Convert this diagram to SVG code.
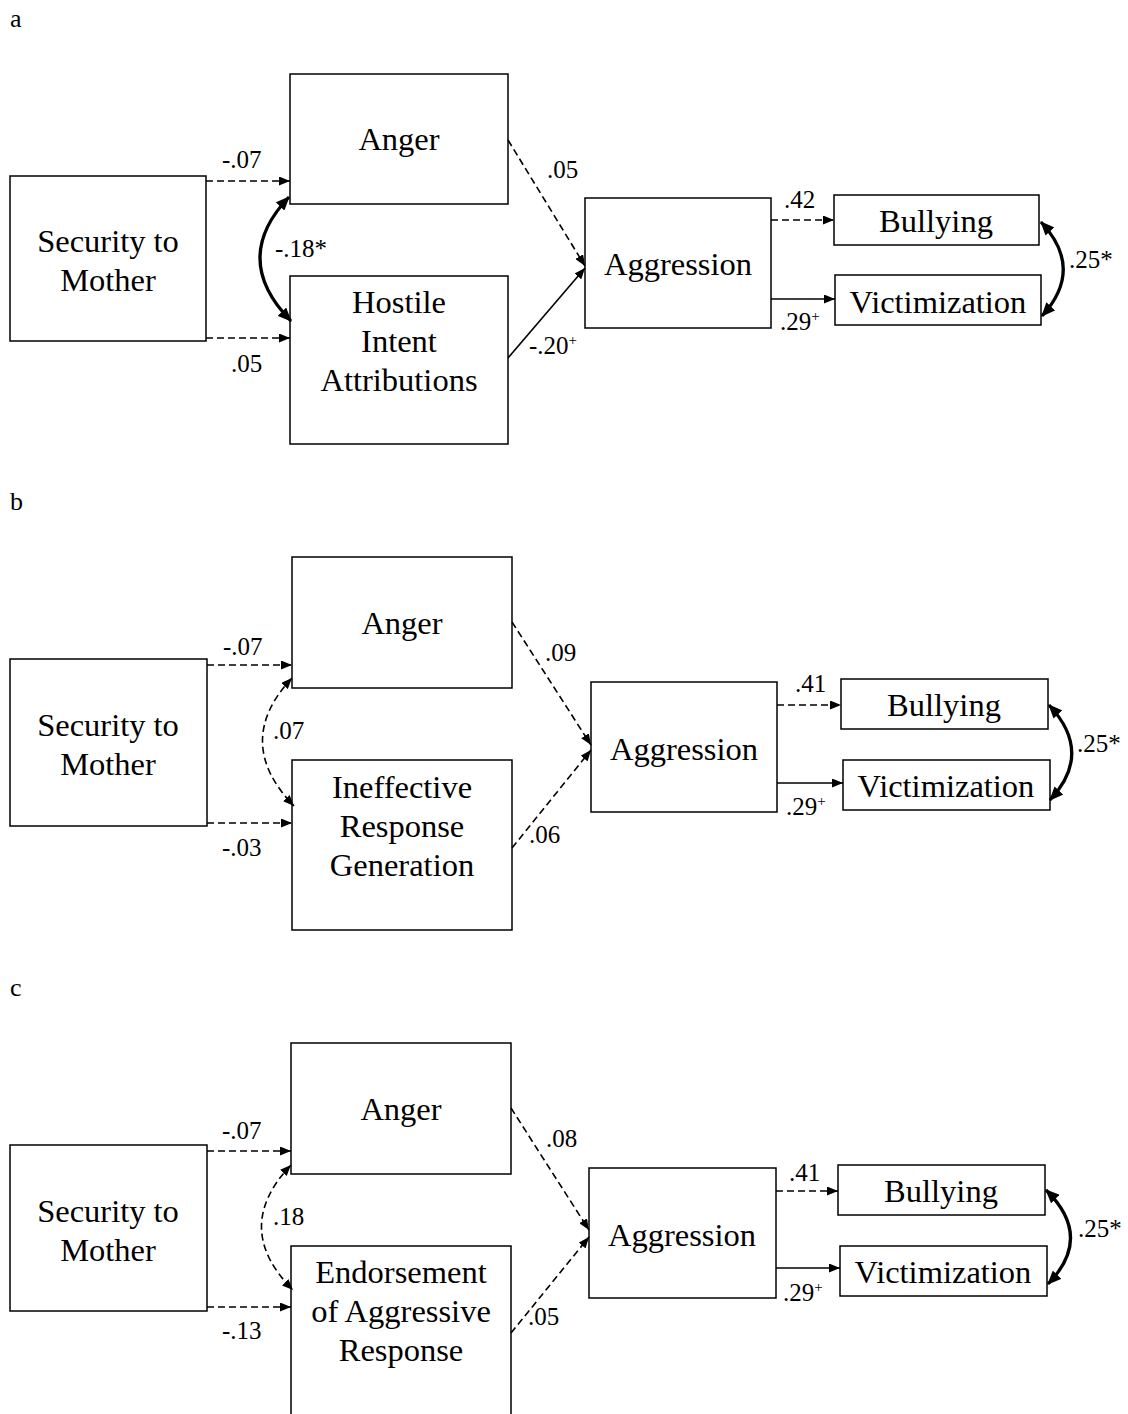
<svg xmlns="http://www.w3.org/2000/svg" width="1128" height="1414" viewBox="0 0 1128 1414">
<style>
.box{fill:#fff;stroke:#000;stroke-width:1.5}
.nt{font-family:"Liberation Serif","Times New Roman",serif;font-size:32.5px;text-anchor:middle;fill:#000}
.lb{font-family:"Liberation Serif","Times New Roman",serif;font-size:25px;fill:#000}
.sup{font-size:15px}
.pl{font-family:"Liberation Serif","Times New Roman",serif;font-size:26px;fill:#000}
.ln{fill:none;stroke:#000;stroke-width:1.6}
.ds{stroke-dasharray:7,4}
.cv{fill:none;stroke:#000;stroke-width:3.2}
</style>
<defs>
<marker id="ah" markerUnits="userSpaceOnUse" markerWidth="11" markerHeight="9" refX="11" refY="4.5" orient="auto-start-reverse"><path d="M0,0 L11,4.5 L0,9 z" fill="#000"/></marker>
<marker id="ahb" markerUnits="userSpaceOnUse" markerWidth="14" markerHeight="12" refX="13" refY="6" orient="auto-start-reverse"><path d="M0,0 L14,6 L0,12 z" fill="#000"/></marker>
</defs>

<text class="pl" x="10" y="27">a</text>
<text class="pl" x="10" y="510">b</text>
<text class="pl" x="10" y="996">c</text>

<!-- Panel a -->
<g id="a-security"><rect class="box" x="10" y="176" width="196" height="165"/><text class="nt" x="108" y="252">Security to</text><text class="nt" x="108" y="291">Mother</text></g>
<g id="a-anger"><rect class="box" x="290" y="74" width="218" height="130"/><text class="nt" x="399" y="150">Anger</text></g>
<g id="a-hostile"><rect class="box" x="290" y="276" width="218" height="168"/><text class="nt" x="399" y="313">Hostile</text><text class="nt" x="399" y="352">Intent</text><text class="nt" x="399" y="391">Attributions</text></g>
<g id="a-aggression"><rect class="box" x="585" y="198" width="186" height="130"/><text class="nt" x="678" y="275">Aggression</text></g>
<g id="a-bullying"><rect class="box" x="834" y="195" width="205" height="50"/><text class="nt" x="936" y="232">Bullying</text></g>
<g id="a-victimization"><rect class="box" x="835" y="275" width="206" height="50"/><text class="nt" x="938" y="313">Victimization</text></g>

<!-- Panel b -->
<g id="b-security"><rect class="box" x="10" y="659" width="197" height="167"/><text class="nt" x="108" y="736">Security to</text><text class="nt" x="108" y="775">Mother</text></g>
<g id="b-anger"><rect class="box" x="292" y="557" width="220" height="131"/><text class="nt" x="402" y="634">Anger</text></g>
<g id="b-ineffective"><rect class="box" x="292" y="760" width="220" height="170"/><text class="nt" x="402" y="798">Ineffective</text><text class="nt" x="402" y="837">Response</text><text class="nt" x="402" y="876">Generation</text></g>
<g id="b-aggression"><rect class="box" x="591" y="682" width="186" height="130"/><text class="nt" x="684" y="760">Aggression</text></g>
<g id="b-bullying"><rect class="box" x="841" y="679" width="207" height="50"/><text class="nt" x="944" y="716">Bullying</text></g>
<g id="b-victimization"><rect class="box" x="843" y="760" width="207" height="50"/><text class="nt" x="946" y="797">Victimization</text></g>

<!-- Panel c -->
<g id="c-security"><rect class="box" x="10" y="1145" width="197" height="166"/><text class="nt" x="108" y="1222">Security to</text><text class="nt" x="108" y="1261">Mother</text></g>
<g id="c-anger"><rect class="box" x="291" y="1043" width="220" height="131"/><text class="nt" x="401" y="1120">Anger</text></g>
<g id="c-endorsement"><rect class="box" x="291" y="1246" width="220" height="200"/><text class="nt" x="401" y="1283">Endorsement</text><text class="nt" x="401" y="1322">of Aggressive</text><text class="nt" x="401" y="1361">Response</text></g>
<g id="c-aggression"><rect class="box" x="589" y="1168" width="187" height="130"/><text class="nt" x="682" y="1246">Aggression</text></g>
<g id="c-bullying"><rect class="box" x="838" y="1165" width="207" height="50"/><text class="nt" x="941" y="1202">Bullying</text></g>
<g id="c-victimization"><rect class="box" x="840" y="1246" width="207" height="50"/><text class="nt" x="943" y="1283">Victimization</text></g>

<g id="connectors">
<!-- a -->
<path class="ln ds" d="M206,181 H290" marker-end="url(#ah)"/>
<path class="ln ds" d="M206,338 H290" marker-end="url(#ah)"/>
<path class="cv" d="M289,197 Q230,259 291,321" marker-start="url(#ahb)" marker-end="url(#ahb)"/>
<path class="ln ds" d="M508,140 L585,266" marker-end="url(#ah)"/>
<path class="ln" d="M508,358 L585,268" marker-end="url(#ah)"/>
<path class="ln ds" d="M771,220 H834" marker-end="url(#ah)"/>
<path class="ln" d="M771,299 H835" marker-end="url(#ah)"/>
<path class="cv" d="M1041,222 Q1085,269 1042,316" marker-start="url(#ahb)" marker-end="url(#ahb)"/>
<!-- b -->
<path class="ln ds" d="M207,665 H292" marker-end="url(#ah)"/>
<path class="ln ds" d="M207,823 H292" marker-end="url(#ah)"/>
<path class="ln ds" d="M292,678 Q232,742 294,806" marker-start="url(#ah)" marker-end="url(#ah)"/>
<path class="ln ds" d="M512,622 L591,745" marker-end="url(#ah)"/>
<path class="ln ds" d="M512,848 L591,750" marker-end="url(#ah)"/>
<path class="ln ds" d="M777,705 H841" marker-end="url(#ah)"/>
<path class="ln" d="M777,783 H843" marker-end="url(#ah)"/>
<path class="cv" d="M1049,705 Q1094,753 1050,800" marker-start="url(#ahb)" marker-end="url(#ahb)"/>
<!-- c -->
<path class="ln ds" d="M207,1151 H291" marker-end="url(#ah)"/>
<path class="ln ds" d="M207,1307 H291" marker-end="url(#ah)"/>
<path class="ln ds" d="M291,1165 Q231,1228 293,1290" marker-start="url(#ah)" marker-end="url(#ah)"/>
<path class="ln ds" d="M511,1108 L589,1230" marker-end="url(#ah)"/>
<path class="ln ds" d="M511,1333 L589,1237" marker-end="url(#ah)"/>
<path class="ln ds" d="M776,1191 H838" marker-end="url(#ah)"/>
<path class="ln" d="M776,1268 H840" marker-end="url(#ah)"/>
<path class="cv" d="M1046,1190 Q1094,1237 1048,1284" marker-start="url(#ahb)" marker-end="url(#ahb)"/>
</g>

<g id="labels">
<text class="lb" x="222" y="168">-.07</text>
<text class="lb" x="231" y="372">.05</text>
<text class="lb" x="275" y="257">-.18*</text>
<text class="lb" x="547" y="178">.05</text>
<text class="lb" x="529" y="354">-.20<tspan class="sup" dy="-9">+</tspan></text>
<text class="lb" x="784" y="208">.42</text>
<text class="lb" x="780" y="330">.29<tspan class="sup" dy="-9">+</tspan></text>
<text class="lb" x="1069" y="268">.25*</text>

<text class="lb" x="223" y="655">-.07</text>
<text class="lb" x="273" y="739">.07</text>
<text class="lb" x="222" y="856">-.03</text>
<text class="lb" x="545" y="661">.09</text>
<text class="lb" x="529" y="843">.06</text>
<text class="lb" x="795" y="692">.41</text>
<text class="lb" x="786" y="815">.29<tspan class="sup" dy="-9">+</tspan></text>
<text class="lb" x="1077" y="752">.25*</text>

<text class="lb" x="222" y="1139">-.07</text>
<text class="lb" x="273" y="1225">.18</text>
<text class="lb" x="222" y="1339">-.13</text>
<text class="lb" x="546" y="1147">.08</text>
<text class="lb" x="528" y="1325">.05</text>
<text class="lb" x="789" y="1181">.41</text>
<text class="lb" x="783" y="1301">.29<tspan class="sup" dy="-9">+</tspan></text>
<text class="lb" x="1078" y="1237">.25*</text>
</g>
</svg>
